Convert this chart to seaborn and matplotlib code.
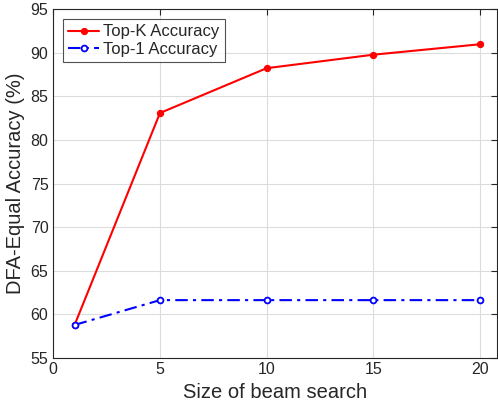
import matplotlib
matplotlib.use("Agg")
import matplotlib.pyplot as plt
import seaborn as sns

# Data
beam_sizes = [1, 5, 10, 15, 20]
topk_acc = [58.75, 83.1, 88.25, 89.8, 91.0]
top1_acc = [58.75, 61.6, 61.6, 61.6, 61.6]

sns.set_style("white")
plt.rcParams['font.family'] = ['Liberation Sans', 'DejaVu Sans']

fig = plt.figure(figsize=(4.98, 4.11), dpi=100)
ax = fig.add_axes([0.107, 0.130, 0.891, 0.847])

sns.lineplot(x=beam_sizes, y=topk_acc, ax=ax, color='#ff0000', linewidth=1.5,
             marker='o', markersize=4.5, markeredgecolor='#ff0000',
             label='Top-K Accuracy')
sns.lineplot(x=beam_sizes, y=top1_acc, ax=ax, color='#0000ff', linewidth=1.5,
             marker='o', markersize=4.2, markerfacecolor='white',
             markeredgecolor='#0000ff', markeredgewidth=1.3,
             label='Top-1 Accuracy')
ax.lines[-1].set_linestyle((0, (6, 2.5, 1.5, 2.5)))

ax.set_xlim(0, 20.8)
ax.set_ylim(55, 95)
ax.set_xticks([0, 5, 10, 15, 20])
ax.set_yticks(range(55, 96, 5))
ax.grid(True, color='#dcdcdc', linewidth=0.8)
ax.set_axisbelow(True)

for s in ax.spines.values():
    s.set_color('#262626')
    s.set_linewidth(0.8)
ax.tick_params(direction='in', top=True, right=True, length=4, width=0.8,
               colors='#262626', labelsize=11.5, labelcolor='#262626')

ax.set_xlabel('Size of beam search', fontsize=14.5, color='#262626')
ax.set_ylabel('DFA-Equal Accuracy (%)', fontsize=14.5, color='#262626')

leg = ax.legend(loc='upper left', fontsize=12, frameon=True, fancybox=False,
                edgecolor='#262626', borderpad=0.3, handlelength=1.85,
                handletextpad=0.25, labelspacing=0.15, borderaxespad=0.6)
leg.get_frame().set_linewidth(0.8)
for t in leg.get_texts():
    t.set_color('#262626')

fig.savefig('out.png', dpi=100)
